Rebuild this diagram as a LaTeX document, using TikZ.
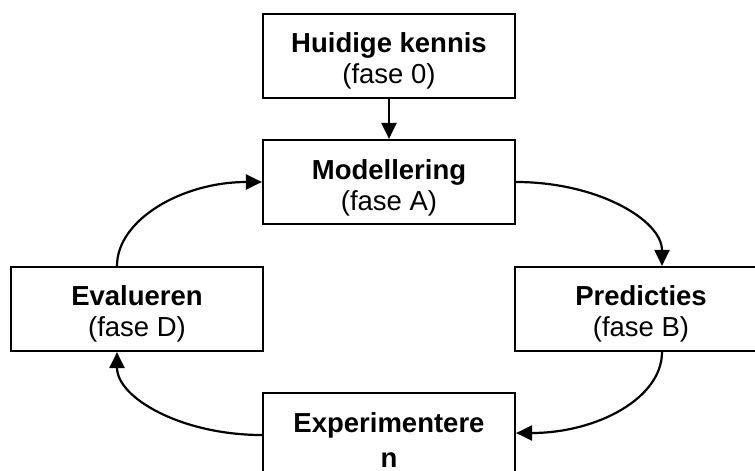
\documentclass[tikz,border=0pt]{standalone}
\usepackage{fontspec}
\setmainfont{Liberation Sans}
\usetikzlibrary{arrows.meta,calc}

\begin{document}
\begin{tikzpicture}[
    x=1pt, y=-1pt,
    phase/.style={draw=black, line width=2.2pt, fill=white,
      minimum width=252pt, minimum height=84pt, inner sep=0pt},
    caption/.style={align=center, inner sep=0pt,
      font=\fontsize{27.5}{31}\selectfont},
    flow/.style={draw=black, line width=2.2pt,
      -{Triangle[length=16pt,width=15pt]}}
  ]
  % canvas
  \useasboundingbox (0,0) rectangle (755,471);
  \clip (0,0) rectangle (755,471);
  \fill[white] (0,0) rectangle (755,471);

  % phase boxes
  \node[phase] (kennis) at (389,56)  {};
  \node[phase] (model)  at (389,182) {};
  \node[phase] (evalu)  at (137,309) {};
  \node[phase] (pred)   at (641,309) {};
  \node[phase] (exper)  at (389,435) {};

  % box texts, set a little below the box centres
  \node[caption] (kennis-t) at ($(kennis)+(0,5)$) {\textbf{Huidige kennis}\\(fase 0)};
  \node[caption] (model-t)  at ($(model)+(0,5.5)$) {\textbf{Modellering}\\(fase A)};
  \node[caption] (evalu-t)  at ($(evalu)+(0,5)$) {\textbf{Evalueren}\\(fase D)};
  \node[caption] (pred-t)   at ($(pred)+(0,5)$) {\textbf{Predicties}\\(fase B)};
  \node[caption] (exper-t)  at ($(exper)+(0,5)$) {\textbf{Experimentere}\\[4pt]\textbf{n}};

  % attachment points off the box centres
  \coordinate (pB-in)  at ($(pred.north)+(21,0)$);
  \coordinate (pB-out) at ($(pred.south)+(21,0)$);
  \coordinate (eD-in)  at ($(evalu.south)+(-20,0)$);
  \coordinate (eD-out) at ($(evalu.north)+(-20,0)$);

  % connectors
  \draw[flow] (kennis.south) -- (model.north);
  \draw[flow] (model.east) .. controls ($(model.east)+(81,0)$) and ($(pB-in)+(0,-46)$) .. (pB-in);
  \draw[flow] (pB-out) .. controls ($(pB-out)+(0,46)$) and ($(exper.east)+(81,-2)$) .. ($(exper.east)+(0,-2)$);
  \draw[flow] (exper.west) .. controls ($(exper.west)+(-80,0)$) and ($(eD-in)+(0,46)$) .. (eD-in);
  \draw[flow] (eD-out) .. controls ($(eD-out)+(0,-46)$) and ($(model.west)+(-80,0)$) .. (model.west);
\end{tikzpicture}
\end{document}
